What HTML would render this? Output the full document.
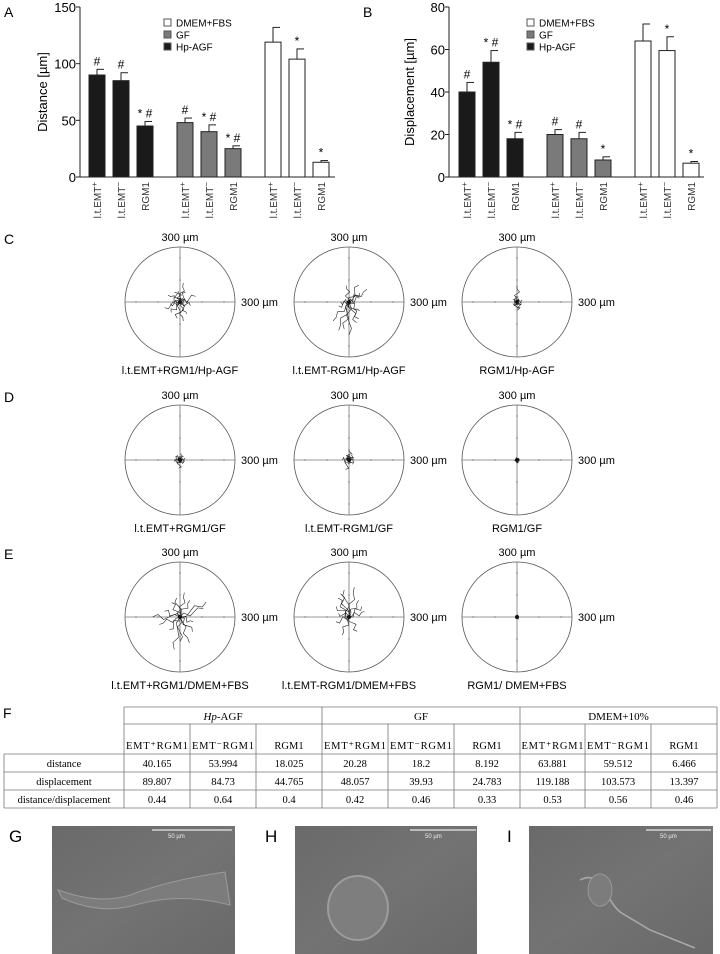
<!DOCTYPE html>
<html><head><meta charset="utf-8">
<style>
body{margin:0;background:#fff;}
svg{display:block;font-family:"Liberation Sans",sans-serif;}
.serif{font-family:"Liberation Serif",serif;}
</style></head>
<body>
<svg id="fig" width="720" height="954" viewBox="0 0 720 954" xmlns="http://www.w3.org/2000/svg">
<defs>
<linearGradient id="pg" x1="0" y1="0" x2="1" y2="1"><stop offset="0" stop-color="#6a6a6a"/><stop offset="0.5" stop-color="#737373"/><stop offset="1" stop-color="#696969"/></linearGradient>
</defs>
<g id="barA"></g>
<g id="barB"></g>
<g id="polars"></g>
<g id="table"></g>
<g id="photos">
  <text x="9" y="842" font-size="17">G</text>
  <rect x="52" y="826" width="183" height="128" fill="url(#pg)"/>
  <path d="M58,890 Q100,905 130,895 Q170,880 225,872 L230,905 Q180,892 135,905 Q100,915 62,898 Z" fill="#7c7c7c" stroke="#9a9a9a" stroke-width="1"/>
  <line x1="152" y1="830" x2="232" y2="830" stroke="#e8e8e8" stroke-width="1.2"/>
  <text x="168" y="838" font-size="6" fill="#eee">50 µm</text>
  <text x="265" y="842" font-size="17">H</text>
  <rect x="295" y="826" width="182" height="128" fill="url(#pg)"/>
  <ellipse cx="358" cy="908" rx="30" ry="32" fill="#7e7e7e" stroke="#9c9c9c" stroke-width="2"/>
  <line x1="410" y1="830" x2="476" y2="830" stroke="#e8e8e8" stroke-width="1.2"/>
  <text x="425" y="838" font-size="6" fill="#eee">50 µm</text>
  <text x="507" y="842" font-size="17">I</text>
  <rect x="529" y="826" width="184" height="128" fill="url(#pg)"/>
  <path d="M580,880 Q595,872 605,890 Q612,905 620,912 L650,930 L695,948" fill="none" stroke="#aaa" stroke-width="1.5"/>
  <ellipse cx="600" cy="890" rx="12" ry="16" fill="#7c7c7c" stroke="#999"/>
  <line x1="646" y1="830" x2="711" y2="830" stroke="#e8e8e8" stroke-width="1.2"/>
  <text x="660" y="838" font-size="6" fill="#eee">50 µm</text>
</g>
</svg>
<script>
const NS="http://www.w3.org/2000/svg";
// ---- Bar chart data ----
const barCats=["l.t.EMT+","l.t.EMT-","RGM1"];
const groupNames=["Hp-AGF","GF","DMEM+FBS"];
const distVals=[[90,85,45],[48,40,25],[119,104,13]];
const distErr=[[5,7,4],[4,6,2.5],[13,9,1.5]];
const distMarks=[["#","#","* #"],["#","* #","* #"],["","*","*"]];
const distTicks=[0,50,100,150];
const dispVals=[[40,54,18],[20,18,8],[64,59.5,6.5]];
const dispErr=[[4.5,5.5,3],[2.3,3,1.5],[8,6.5,0.8]];
const dispMarks=[["#","* #","* #"],["#","#","*"],["","*","*"]];
const dispTicks=[0,20,40,60,80];
const groupFills=["#1a1a1a","#7a7a7a","#ffffff"];

function mk(tag,attrs,parent,txt){const e=document.createElementNS(NS,tag);for(const k in attrs)e.setAttribute(k,attrs[k]);if(txt!==undefined)e.textContent=txt;parent.appendChild(e);return e;}

function barChart(g,opt){
  const y0=177,y1=7,ax=opt.ax;
  const ys=v=>y0-(v/opt.max)*(y0-y1);
  mk("line",{x1:ax,y1:y1,x2:ax,y2:y0,stroke:"#222","stroke-width":1},g);
  mk("line",{x1:ax,y1:y0,x2:ax+255,y2:y0,stroke:"#222","stroke-width":1},g);
  opt.ticks.forEach(t=>{
    mk("line",{x1:ax-4,y1:ys(t),x2:ax,y2:ys(t),stroke:"#222"},g);
    const tl=mk("text",{x:ax-4,y:ys(t)+5,"font-size":13,"text-anchor":"end"},g,t);
    
    
  });
  const yt=mk("text",{x:0,y:0,"font-size":13,"text-anchor":"middle",transform:`translate(${opt.tx},92) rotate(-90)`},g,opt.title);
  
  
  const pl=mk("text",{x:opt.lx,y:17,"font-size":14},g,opt.letter);
  
  
  opt.vals.forEach((grp,gi)=>{
    grp.forEach((v,ci)=>{
      const x=opt.gx[gi]+ci*24, w=16;
      const top=ys(v), et=ys(v+opt.err[gi][ci]);
      mk("line",{x1:x+w/2,y1:et,x2:x+w/2,y2:top,stroke:"#222"},g);
      mk("line",{x1:x+w/2-0.5,y1:et,x2:x+w-1,y2:et,stroke:"#222"},g);
      const b=mk("rect",{x:x,y:top,width:w,height:y0-top,fill:groupFills[gi],stroke:"#222","stroke-width":1},g);
      
      
      const m=opt.marks[gi][ci];
      if(m){const mt=mk("text",{x:x+w/2,y:et-4,"font-size":12,"text-anchor":"middle"},g,m);
        
        }
      const c=barCats[ci];
      const lab=mk("text",{x:0,y:0,"font-size":10,"text-anchor":"end",fill:"#333",transform:`translate(${x+w/2+4},182) rotate(-90)`},g);
      if(c==="RGM1"){lab.textContent="RGM1";}
      else{lab.textContent="l.t.EMT";mk("tspan",{"font-size":8,dy:-4},lab,c.slice(-1)==="+"?"+":"−");}
      
      
    });
  });
  const leg=[["DMEM+FBS","#fff"],["GF","#7a7a7a"],["Hp-AGF","#1a1a1a"]];
  leg.forEach((l,i)=>{
    const ly=19+i*12;
    mk("rect",{x:opt.lgx,y:ly,width:7,height:7,fill:l[1],stroke:"#555"},g);
    const t=mk("text",{x:opt.lgx+12,y:ly+7.5,"font-size":10},g,l[0]);
    
    
  });
}
barChart(document.getElementById("barA"),{ax:80,max:150,ticks:distTicks,vals:distVals,err:distErr,marks:distMarks,gx:[89,177,265],title:"Distance [µm]",tx:47,letter:"A",lx:4,lgx:164});
barChart(document.getElementById("barB"),{ax:449,max:80,ticks:dispTicks,vals:dispVals,err:dispErr,marks:dispMarks,gx:[459,547,635],title:"Displacement [µm]",tx:414,letter:"B",lx:363,lgx:527});

// ---- Polar migration plots ----
const polarCaptions=[["l.t.EMT+RGM1/Hp-AGF","l.t.EMT-RGM1/Hp-AGF","RGM1/Hp-AGF"],["l.t.EMT+RGM1/GF","l.t.EMT-RGM1/GF","RGM1/GF"],["l.t.EMT+RGM1/DMEM+FBS","l.t.EMT-RGM1/DMEM+FBS","RGM1/ DMEM+FBS"]];
const rowLetters=["C","D","E"];
const trackAngles=[[[80,200,260,300,20,120,150,340,230,280,60,10,100,190],[250,270,290,230,60,40,100,200,300,320,20,260,35,180],[90,270,300,20,200,110]],
 [[80,260,200,20,300,150],[90,250,180,30,310,120,60],[45,250]],
 [[80,100,260,290,20,30,200,230,120,340,310,180,60,270,160],[80,100,120,60,140,40,250,200,300,20,160,110],[0]]];
const trackLens=[[[0.35,0.3,0.3,0.25,0.3,0.2,0.25,0.2,0.25,0.35,0.2,0.15,0.2,0.18],[0.55,0.6,0.4,0.45,0.35,0.25,0.3,0.2,0.35,0.25,0.2,0.5,0.4,0.15],[0.3,0.15,0.12,0.1,0.08,0.1]],
 [[0.12,0.15,0.1,0.1,0.08,0.1],[0.2,0.18,0.12,0.1,0.1,0.08,0.12],[0.05,0.05]],
 [[0.45,0.35,0.6,0.5,0.45,0.55,0.4,0.3,0.3,0.25,0.35,0.5,0.35,0.45,0.3],[0.55,0.5,0.4,0.35,0.3,0.3,0.35,0.25,0.3,0.3,0.2,0.45],[0.03]]];
const polarCx=[180,349,517], polarCy=[302,460,617], R=55;
const pg=document.getElementById("polars");
polarCy.forEach((cy,ri)=>{
  const rl=mk("text",{x:4,y:cy-58,"font-size":14},pg,rowLetters[ri]);
  
  
  polarCx.forEach((cx,ci)=>{
    const g=mk("g",{},pg);
    
    
    mk("circle",{cx:cx,cy:cy,r:R,fill:"none",stroke:"#555","stroke-width":0.8},g);
    mk("line",{x1:cx-R,y1:cy,x2:cx+R,y2:cy,stroke:"#777","stroke-width":0.8},g);
    mk("line",{x1:cx,y1:cy-R,x2:cx,y2:cy+R,stroke:"#777","stroke-width":0.8},g);
    for(let k=-2;k<=2;k++){ if(!k)continue;
      mk("line",{x1:cx+k*22,y1:cy-1,x2:cx+k*22,y2:cy+1,stroke:"#777","stroke-width":0.6},g);
      mk("line",{x1:cx-1,y1:cy+k*22,x2:cx+1,y2:cy+k*22,stroke:"#777","stroke-width":0.6},g);}
    trackAngles[ri][ci].forEach((a,ti)=>{
      const L=trackLens[ri][ci][ti]*R, rad=a*Math.PI/180;
      const ex=cx+L*Math.cos(rad), ey=cy-L*Math.sin(rad);
      let pts=[`${cx},${cy}`];
      for(let s=1;s<=4;s++){
        const f=s/5, j=((ti+s)%3-1)*2.5;
        pts.push(`${cx+(ex-cx)*f - Math.sin(rad)*j},${cy+(ey-cy)*f - Math.cos(rad)*j}`);
      }
      pts.push(`${ex},${ey}`);
      const p=mk("polyline",{points:pts.join(" "),fill:"none",stroke:"#222","stroke-width":0.6},g);
      
      
    });
    mk("circle",{cx:cx,cy:cy,r:2,fill:"#111"},g);
    const t1=mk("text",{x:cx,y:cy-R-6,"font-size":11,"text-anchor":"middle"},g,"300 µm");
    
    
    const t2=mk("text",{x:cx+R+6,y:cy+4,"font-size":11},g,"300 µm");
    
    
    const cap=mk("text",{x:cx,y:cy+R+17,"font-size":11,"text-anchor":"middle"},g,polarCaptions[ri][ci]);
    
    
  });
});

// ---- Table ----
const tg=document.getElementById("table");
const colX=[124,190,256,322,388,454,520,585,651,717];
const rowNames=["distance","displacement","distance/displacement"];
const tblVals=[["40.165","53.994","18.025","20.28","18.2","8.192","63.881","59.512","6.466"],
["89.807","84.73","44.765","48.057","39.93","24.783","119.188","103.573","13.397"],
["0.44","0.64","0.4","0.42","0.46","0.33","0.53","0.56","0.46"]];
const rowY=[754,772,790,808];
const fl=mk("text",{x:3,y:718,"font-size":14},tg,"F");


const S={stroke:"#777","stroke-width":0.8};
mk("line",Object.assign({x1:124,y1:707,x2:717,y2:707},S),tg);
mk("line",Object.assign({x1:124,y1:724,x2:717,y2:724},S),tg);
rowY.forEach(y=>mk("line",Object.assign({x1:4,y1:y,x2:717,y2:y},S),tg));
mk("line",Object.assign({x1:4,y1:754,x2:4,y2:808},S),tg);
colX.forEach((x,i)=>{const top=(i%3===0)?707:724;mk("line",Object.assign({x1:x,y1:top,x2:x,y2:808},S),tg);});
const heads=[["Hp","-AGF"],["GF",""],["DMEM+10%",""]];
heads.forEach((h,i)=>{
  const t=mk("text",{x:(colX[i*3]+colX[i*3+3])/2,y:720,"font-size":11,"text-anchor":"middle",class:"serif"},tg);
  if(i===0){mk("tspan",{"font-style":"italic"},t,"Hp");mk("tspan",{},t,"-AGF");}else t.textContent=h[0];
  
  
});
const sub=["EMT⁺RGM1","EMT⁻RGM1","RGM1"];
for(let c=0;c<9;c++){
  const t=mk("text",{x:(colX[c]+colX[c+1])/2,y:749,"font-size":10.5,"text-anchor":"middle",class:"serif"},tg,sub[c%3]);
  if(c%3<2)t.setAttribute("textLength","62");
  
  
}
rowNames.forEach((r,ri)=>{
  const t=mk("text",{x:64,y:rowY[ri]+13,"font-size":10.5,"text-anchor":"middle",class:"serif"},tg,r);
  
  
  tblVals[ri].forEach((v,c)=>{
    const ct=mk("text",{x:(colX[c]+colX[c+1])/2,y:rowY[ri]+13,"font-size":10.5,"text-anchor":"middle",class:"serif"},tg,v);
    
    
  });
});
</script>
</body></html>
